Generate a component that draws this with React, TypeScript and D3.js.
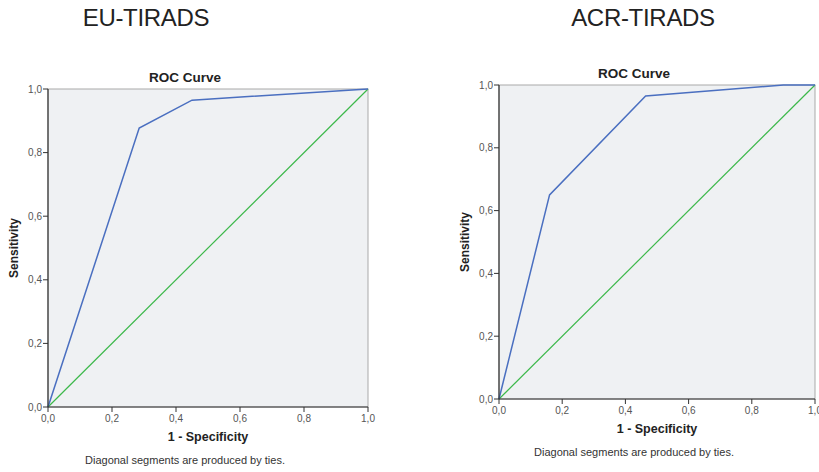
import React from 'react';
import * as d3 from 'd3';

// ROC points [1 - specificity, sensitivity]
const euTiradsRoc: [number, number][] = [
  [0, 0],
  [0.285, 0.877],
  [0.45, 0.965],
  [1, 1],
];
const acrTiradsRoc: [number, number][] = [
  [0, 0],
  [0.16, 0.65],
  [0.464, 0.965],
  [0.9, 1],
  [1, 1],
];
const refLine: [number, number][] = [
  [0, 0],
  [1, 1],
];
const tickValues = [0, 0.2, 0.4, 0.6, 0.8, 1];
const fmt = (v: number) => d3.format('.1f')(v).replace('.', ',');

type Panel = {
  heading: string;
  headingX: number;
  data: [number, number][];
  left: number;
  right: number;
  top: number;
  bottom: number;
};

const panels: Panel[] = [
  { heading: 'EU-TIRADS', headingX: 146, data: euTiradsRoc, left: 48, right: 368, top: 89, bottom: 407 },
  { heading: 'ACR-TIRADS', headingX: 643, data: acrTiradsRoc, left: 499, right: 815, top: 85, bottom: 399 },
];

const RocPanel = ({ p }: { p: Panel }) => {
  const x = d3.scaleLinear().domain([0, 1]).range([p.left, p.right]);
  const y = d3.scaleLinear().domain([0, 1]).range([p.bottom, p.top]);
  const line = d3
    .line<[number, number]>()
    .x((d) => x(d[0]))
    .y((d) => y(d[1]));
  const cx = (p.left + p.right) / 2;
  const cy = (p.top + p.bottom) / 2;
  // chart title and footnote sit centred on the whole chart, not the plot box
  const tx = cx - 23;
  const font = 'Liberation Sans, Arial, sans-serif';

  return (
    <g fontFamily={font}>
      <text x={p.headingX} y={26} fontSize={24} fill="#222" textAnchor="middle" style={{ letterSpacing: '-0.3px' }}>
        {p.heading}
      </text>
      <text x={tx} y={p.top - 7} fontSize={13.5} fontWeight="bold" textAnchor="middle" fill="#222">
        ROC Curve
      </text>
      <rect x={p.left} y={p.top} width={p.right - p.left} height={p.bottom - p.top} fill="#eff1f3" stroke="#a9a9a9" strokeWidth={1} />
      <path d={line(refLine) || ''} fill="none" stroke="#3cb84a" strokeWidth={1.2} />
      <path d={line(p.data) || ''} fill="none" stroke="#4a6fc0" strokeWidth={1.5} />
      <line x1={p.left} x2={p.left} y1={p.top} y2={p.bottom} stroke="#333" strokeWidth={1.2} />
      <line x1={p.left} x2={p.right} y1={p.bottom} y2={p.bottom} stroke="#333" strokeWidth={1.2} />
      {tickValues.map((t) => (
        <g key={'y' + t}>
          <line x1={p.left - 5} x2={p.left} y1={y(t)} y2={y(t)} stroke="#333" />
          <text x={p.left - 6} y={y(t) + 3.5} fontSize={10} fill="#555" textAnchor="end">
            {fmt(t)}
          </text>
        </g>
      ))}
      {tickValues.map((t) => (
        <g key={'x' + t}>
          <line x1={x(t)} x2={x(t)} y1={p.bottom} y2={p.bottom + 5} stroke="#333" />
          <text x={x(t)} y={p.bottom + 15} fontSize={10} fill="#555" textAnchor="middle">
            {fmt(t)}
          </text>
        </g>
      ))}
      <text x={cx} y={p.bottom + 34} fontSize={12.5} fontWeight="bold" textAnchor="middle" fill="#222">
        1 - Specificity
      </text>
      <text
        transform={`translate(${p.left - 30},${cy}) rotate(-90)`}
        fontSize={12}
        fontWeight="bold"
        textAnchor="middle"
        fill="#222"
      >
        Sensitivity
      </text>
      <text x={tx} y={p.bottom + 57} fontSize={11} textAnchor="middle" fill="#333">
        Diagonal segments are produced by ties.
      </text>
    </g>
  );
};

export default function App() {
  return (
    <svg width={819} height={472} style={{ position: 'absolute', left: 0, top: 0, background: '#fff' }}>
      {panels.map((p) => (
        <RocPanel key={p.heading} p={p} />
      ))}
    </svg>
  );
}
